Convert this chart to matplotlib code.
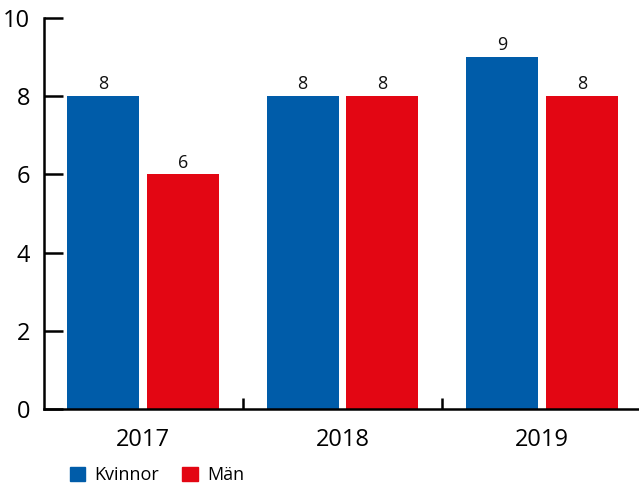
import matplotlib
matplotlib.use("Agg")
import matplotlib.pyplot as plt
import numpy as np
from matplotlib.patches import Patch

plt.rcParams['font.family'] = ['Open Sans', 'DejaVu Sans']

categories = ['2017', '2018', '2019']
kvinnor = [8, 8, 9]
man = [6, 8, 8]
series_names = ['Kvinnor', 'Män']
yticks = [0, 2, 4, 6, 8, 10]

blue = '#005CA9'
red = '#E30613'

fig = plt.figure(figsize=(6.39, 4.86), dpi=100)
ax = fig.add_axes([44/639, 1-409/486, (643-44)/639, (409-18)/486])

x = np.arange(len(categories))
w = 0.36
b1 = ax.bar(x - 0.2, kvinnor, w, color=blue)
b2 = ax.bar(x + 0.2, man, w, color=red)
for bars in (b1, b2):
    ax.bar_label(bars, padding=2, fontsize=13, color='#111111')

ax.set_xlim(-0.495, 2.505)
ax.set_ylim(0, 10)
ax.set_yticks(yticks)
ax.set_xticks(x)
ax.set_xticklabels(categories)
ax.set_xticks([0.5, 1.5], minor=True)
ax.tick_params(axis='x', which='major', length=0, pad=14, labelsize=17)
ax.tick_params(axis='x', which='minor', length=8, width=1.8, direction='in')
ax.tick_params(axis='y', length=14, width=1.8, direction='in', pad=10, labelsize=17)
for s in ['top', 'right']:
    ax.spines[s].set_visible(False)
for s in ['left', 'bottom']:
    ax.spines[s].set_linewidth(1.8)
ax.spines['left'].set_bounds(0, 10)

handles = [Patch(color=blue, label=series_names[0]), Patch(color=red, label=series_names[1])]
fig.legend(handles=handles, loc='lower left', bbox_to_anchor=(68/639, 0.0),
           ncol=2, frameon=False, fontsize=13, handlelength=0.85, handleheight=0.85,
           handletextpad=0.5, columnspacing=1.3, borderaxespad=0.0, borderpad=0.1)

fig.savefig('out.png', dpi=100)
